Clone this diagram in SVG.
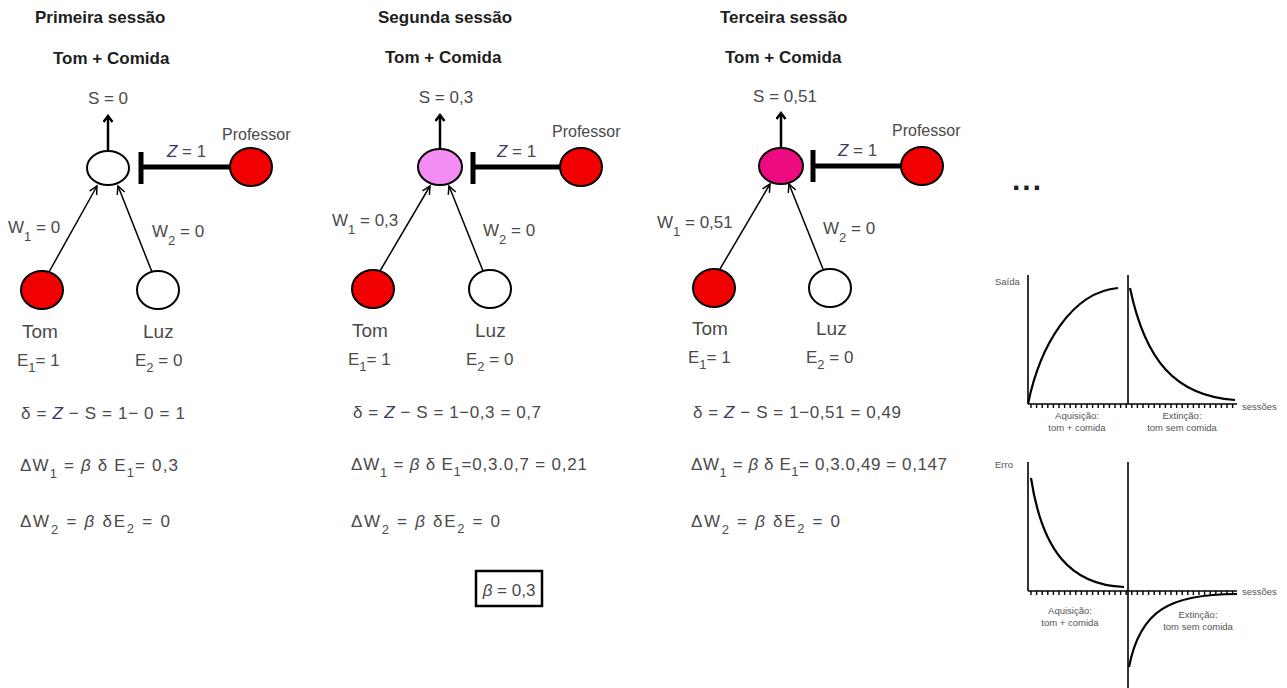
<svg xmlns="http://www.w3.org/2000/svg" width="1287" height="688" viewBox="0 0 1287 688">
<style>
  .title { font-family: "Liberation Sans", Arial, sans-serif; font-weight: bold; font-size: 17px; fill: #1e1e1e; }
  .lbl { font-family: "Liberation Sans", Arial, sans-serif; font-size: 17px; fill: #4a4a4a; }
  .big { font-family: "Liberation Sans", Arial, sans-serif; font-size: 19px; fill: #4a4a4a; }
  .prof { font-family: "Liberation Sans", Arial, sans-serif; font-size: 16px; fill: #4a4a4a; }
  .it { font-style: italic; }
  .z { font-style: italic; fill: #3a3a60; }
  .sub { font-size: 13px; }
  .node { stroke: #000; stroke-width: 2; }
  .red { fill: #f20000; }
  .white { fill: #ffffff; }
  .thin { stroke: #000; stroke-width: 1.5; fill: none; }
  .out { stroke: #000; stroke-width: 2.5; fill: none; }
  .inh { stroke: #000; stroke-width: 5; fill: none; }
  .axis { stroke: #000; stroke-width: 1.6; fill: none; }
  .curve { stroke: #000; stroke-width: 2.2; fill: none; }
  .ticks { stroke: #000; stroke-width: 4; stroke-dasharray: 1.4 4.2; fill: none; }
  .small { font-family: "Liberation Sans", Arial, sans-serif; font-size: 9.5px; fill: #555; }
</style>
<defs>
  <marker id="open" markerUnits="userSpaceOnUse" markerWidth="12" markerHeight="12" refX="9" refY="5" orient="auto">
    <path d="M1,1 L9,5 L1,9" fill="none" stroke="#000" stroke-width="1.5"/>
  </marker>
  <marker id="up" markerUnits="userSpaceOnUse" markerWidth="12" markerHeight="12" refX="8" refY="5" orient="auto">
    <path d="M2,0.5 L8,5 L2,9.5" fill="none" stroke="#000" stroke-width="2.5"/>
  </marker>
</defs>
<rect width="1287" height="688" fill="#ffffff"/>

<!-- Connectors -->
<g id="connectors">
  <!-- panel 1 -->
  <line class="out" x1="108" y1="151" x2="108" y2="116" marker-end="url(#up)"/>
  <line class="inh" x1="141" y1="152" x2="141" y2="184"/>
  <line class="inh" x1="141" y1="167" x2="231" y2="167"/>
  <line class="thin" x1="49" y1="272" x2="97" y2="186" marker-end="url(#open)"/>
  <line class="thin" x1="152" y1="272" x2="118" y2="186" marker-end="url(#open)"/>
  <!-- panel 2 -->
  <line class="out" x1="440" y1="150" x2="440" y2="115" marker-end="url(#up)"/>
  <line class="inh" x1="473" y1="152" x2="473" y2="184"/>
  <line class="inh" x1="473" y1="167" x2="561" y2="167"/>
  <line class="thin" x1="380" y1="271" x2="430" y2="186" marker-end="url(#open)"/>
  <line class="thin" x1="483" y1="271" x2="449" y2="186" marker-end="url(#open)"/>
  <!-- panel 3 -->
  <line class="out" x1="781" y1="148" x2="781" y2="113" marker-end="url(#up)"/>
  <line class="inh" x1="813" y1="150" x2="813" y2="182"/>
  <line class="inh" x1="813" y1="166" x2="902" y2="166"/>
  <line class="thin" x1="720" y1="269" x2="770" y2="184" marker-end="url(#open)"/>
  <line class="thin" x1="823" y1="269" x2="789" y2="184" marker-end="url(#open)"/>
</g>

<!-- Panel 1 -->
<g id="panel1">
  <text class="title" x="35" y="23">Primeira sessão</text>
  <text class="title" x="53" y="64">Tom + Comida</text>
  <text class="lbl" x="108" y="104" text-anchor="middle">S = 0</text>
  <text class="prof" x="222" y="140">Professor</text>
  <text class="lbl" x="167" y="157"><tspan class="z">Z</tspan> = 1</text>
  <text class="lbl" x="8" y="233">W<tspan class="sub" dy="8">1</tspan><tspan dy="-8"> = 0</tspan></text>
  <text class="lbl" x="152" y="237">W<tspan class="sub" dy="8">2</tspan><tspan dy="-8"> = 0</tspan></text>
  <text class="big" x="22" y="338">Tom</text>
  <text class="big" x="143" y="338">Luz</text>
  <text class="lbl" x="17" y="366">E<tspan class="sub" dy="6">1</tspan><tspan dy="-6">= 1</tspan></text>
  <text class="lbl" x="135" y="366">E<tspan class="sub" dy="6">2</tspan><tspan dy="-6"> = 0</tspan></text>
  <text class="lbl" x="21" y="419" textLength="164" lengthAdjust="spacing">δ = <tspan class="z">Z</tspan> − S = 1− 0 = 1</text>
  <text class="lbl" x="20" y="471" textLength="158" lengthAdjust="spacing">ΔW<tspan class="sub" dy="7">1</tspan><tspan dy="-7"> = </tspan><tspan class="it">β</tspan> δ E<tspan class="sub" dy="6">1</tspan><tspan dy="-6">= 0,3</tspan></text>
  <text class="lbl" x="20" y="527" textLength="150" lengthAdjust="spacing">ΔW<tspan class="sub" dy="7">2</tspan><tspan dy="-7"> = </tspan><tspan class="it">β</tspan> δE<tspan class="sub" dy="6">2</tspan><tspan dy="-6"> = 0</tspan></text>
  <g id="p1-out"><ellipse class="node white" cx="108" cy="168" rx="21" ry="17"/></g>
  <g id="p1-prof"><ellipse class="node red" cx="251" cy="167" rx="21" ry="19"/></g>
  <g id="p1-tom"><ellipse class="node red" cx="42" cy="290" rx="21" ry="19"/></g>
  <g id="p1-luz"><ellipse class="node white" cx="158" cy="290" rx="21" ry="19"/></g>
</g>

<!-- Panel 2 -->
<g id="panel2">
  <text class="title" x="378" y="23">Segunda sessão</text>
  <text class="title" x="385" y="63">Tom + Comida</text>
  <text class="lbl" x="446" y="103" text-anchor="middle">S = 0,3</text>
  <text class="prof" x="552" y="137">Professor</text>
  <text class="lbl" x="497" y="157"><tspan class="z">Z</tspan> = 1</text>
  <text class="lbl" x="332" y="226">W<tspan class="sub" dy="8">1</tspan><tspan dy="-8"> = 0,3</tspan></text>
  <text class="lbl" x="483" y="236">W<tspan class="sub" dy="8">2</tspan><tspan dy="-8"> = 0</tspan></text>
  <text class="big" x="352" y="337">Tom</text>
  <text class="big" x="475" y="337">Luz</text>
  <text class="lbl" x="348" y="365">E<tspan class="sub" dy="6">1</tspan><tspan dy="-6">= 1</tspan></text>
  <text class="lbl" x="466" y="365">E<tspan class="sub" dy="6">2</tspan><tspan dy="-6"> = 0</tspan></text>
  <text class="lbl" x="353" y="418" textLength="188" lengthAdjust="spacing">δ = <tspan class="z">Z</tspan> − S = 1−0,3 = 0,7</text>
  <text class="lbl" x="351" y="470" textLength="236" lengthAdjust="spacing">ΔW<tspan class="sub" dy="7">1</tspan><tspan dy="-7"> = </tspan><tspan class="it">β</tspan> δ E<tspan class="sub" dy="6">1</tspan><tspan dy="-6">=0,3.0,7 = 0,21</tspan></text>
  <text class="lbl" x="351" y="527" textLength="149" lengthAdjust="spacing">ΔW<tspan class="sub" dy="7">2</tspan><tspan dy="-7"> = </tspan><tspan class="it">β</tspan> δE<tspan class="sub" dy="6">2</tspan><tspan dy="-6"> = 0</tspan></text>
  <g id="p2-out"><ellipse class="node" fill="#f38cf3" cx="440" cy="167" rx="22" ry="18"/></g>
  <g id="p2-prof"><ellipse class="node red" cx="581" cy="167" rx="21" ry="19"/></g>
  <g id="p2-tom"><ellipse class="node red" cx="373" cy="289" rx="21" ry="19"/></g>
  <g id="p2-luz"><ellipse class="node white" cx="490" cy="289" rx="21" ry="19"/></g>
</g>

<!-- Panel 3 -->
<g id="panel3">
  <text class="title" x="720" y="23">Terceira sessão</text>
  <text class="title" x="725" y="63">Tom + Comida</text>
  <text class="lbl" x="785" y="102" text-anchor="middle">S = 0,51</text>
  <text class="prof" x="892" y="136">Professor</text>
  <text class="lbl" x="838" y="156"><tspan class="z">Z</tspan> = 1</text>
  <text class="lbl" x="657" y="228">W<tspan class="sub" dy="8">1</tspan><tspan dy="-8"> = 0,51</tspan></text>
  <text class="lbl" x="823" y="234">W<tspan class="sub" dy="8">2</tspan><tspan dy="-8"> = 0</tspan></text>
  <text class="big" x="692" y="335">Tom</text>
  <text class="big" x="816" y="335">Luz</text>
  <text class="lbl" x="688" y="363">E<tspan class="sub" dy="6">1</tspan><tspan dy="-6">= 1</tspan></text>
  <text class="lbl" x="806" y="363">E<tspan class="sub" dy="6">2</tspan><tspan dy="-6"> = 0</tspan></text>
  <text class="lbl" x="693" y="418" textLength="208" lengthAdjust="spacing">δ = <tspan class="z">Z</tspan> − S = 1−0,51 = 0,49</text>
  <text class="lbl" x="691" y="470" textLength="256" lengthAdjust="spacing">ΔW<tspan class="sub" dy="7">1</tspan><tspan dy="-7"> = </tspan><tspan class="it">β</tspan> δ E<tspan class="sub" dy="6">1</tspan><tspan dy="-6">= 0,3.0,49 = 0,147</tspan></text>
  <text class="lbl" x="691" y="527" textLength="149" lengthAdjust="spacing">ΔW<tspan class="sub" dy="7">2</tspan><tspan dy="-7"> = </tspan><tspan class="it">β</tspan> δE<tspan class="sub" dy="6">2</tspan><tspan dy="-6"> = 0</tspan></text>
  <g id="p3-out"><ellipse class="node" fill="#ee0a80" cx="781" cy="166" rx="22" ry="18"/></g>
  <g id="p3-prof"><ellipse class="node red" cx="922" cy="166" rx="21" ry="19"/></g>
  <g id="p3-tom"><ellipse class="node red" cx="714" cy="288" rx="21" ry="19"/></g>
  <g id="p3-luz"><ellipse class="node white" cx="830" cy="288" rx="21" ry="19"/></g>
</g>

<!-- beta box -->
<g id="beta">
  <rect x="476" y="571" width="66" height="35" fill="#fff" stroke="#000" stroke-width="2.5"/>
  <text class="lbl" x="509" y="596" text-anchor="middle"><tspan class="it">β</tspan> = 0,3</text>
</g>

<g id="ellipsis">
  <text x="1012" y="190" font-family="Liberation Sans, Arial, sans-serif" font-weight="bold" font-size="30" letter-spacing="2" fill="#1e1e1e">...</text>
</g>

<!-- Top chart -->
<g id="chart-saida">
  <line class="axis" x1="1028" y1="275" x2="1028" y2="404"/>
  <line class="axis" x1="1128" y1="275" x2="1128" y2="404"/>
  <line class="axis" x1="1028" y1="404" x2="1237" y2="404"/>
  <line class="ticks" x1="1030.3" y1="406" x2="1235" y2="406"/>
  <path class="curve" d="M1028,404 C1040,345 1072,292 1118,288"/>
  <path class="curve" d="M1130,288 C1145,360 1175,396 1235,400"/>
  <text class="small" x="995" y="285">Saída</text>
  <text class="small" x="1242" y="410">sessões</text>
  <text class="small" x="1077" y="419" text-anchor="middle">Aquisição:</text>
  <text class="small" x="1077" y="431" text-anchor="middle">tom + comida</text>
  <text class="small" x="1182" y="419" text-anchor="middle">Extinção:</text>
  <text class="small" x="1182" y="431" text-anchor="middle">tom sem comida</text>
</g>

<!-- Bottom chart -->
<g id="chart-erro">
  <line class="axis" x1="1028" y1="462" x2="1028" y2="591"/>
  <line class="axis" x1="1128" y1="462" x2="1128" y2="688"/>
  <line class="axis" x1="1028" y1="591" x2="1237" y2="591"/>
  <line class="ticks" x1="1030.3" y1="593" x2="1235" y2="593"/>
  <path class="curve" d="M1031,478 C1042,550 1070,585 1124,587"/>
  <path class="curve" d="M1129,667 C1140,610 1170,594 1237,594"/>
  <text class="small" x="995" y="468">Erro</text>
  <text class="small" x="1242" y="595">sessões</text>
  <text class="small" x="1070" y="614" text-anchor="middle">Aquisição:</text>
  <text class="small" x="1070" y="626" text-anchor="middle">tom + comida</text>
  <text class="small" x="1198" y="618" text-anchor="middle">Extinção:</text>
  <text class="small" x="1198" y="630" text-anchor="middle">tom sem comida</text>
</g>
</svg>
